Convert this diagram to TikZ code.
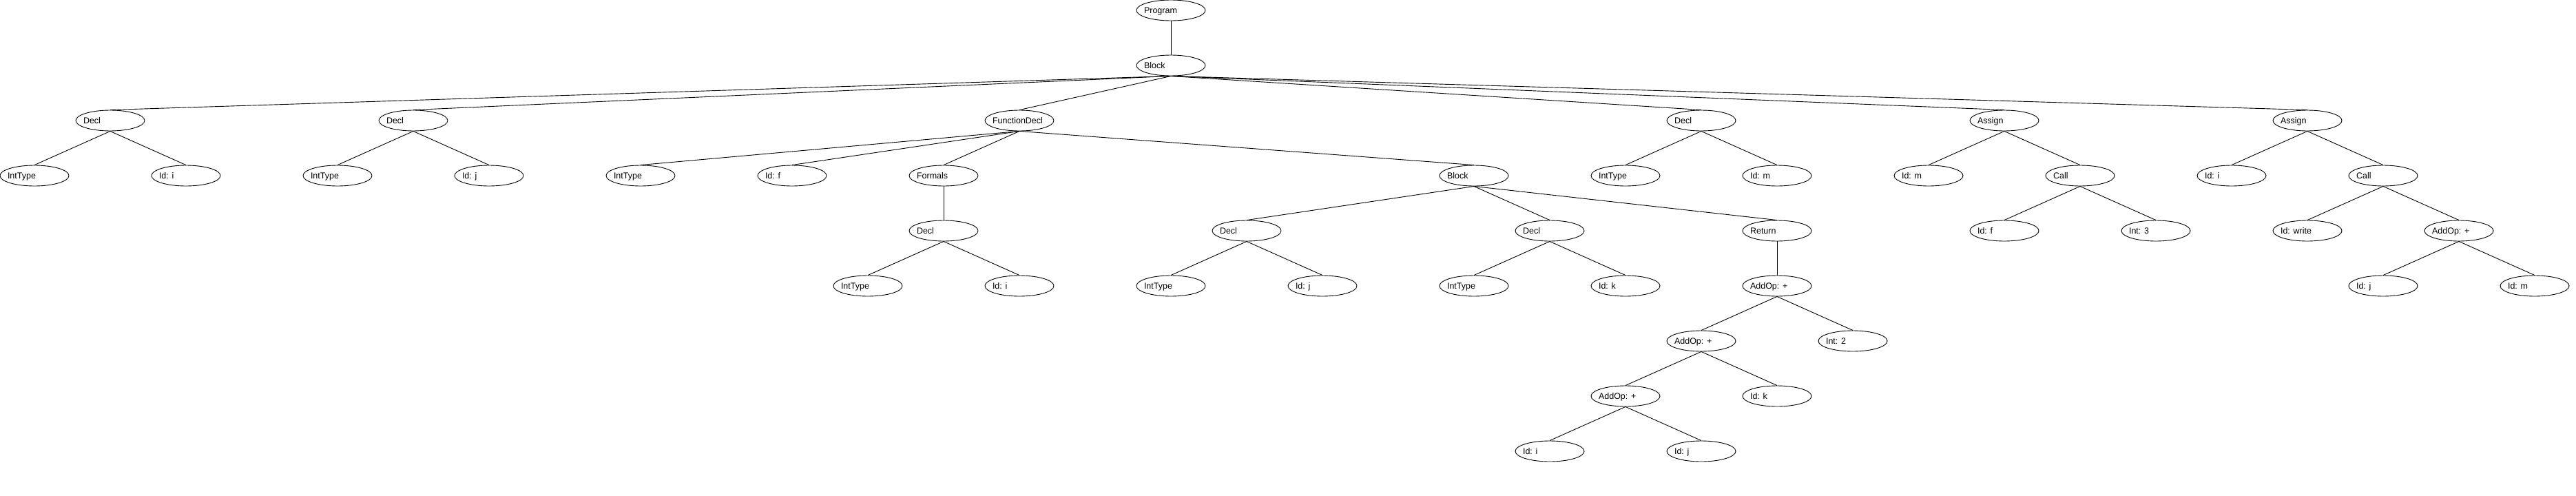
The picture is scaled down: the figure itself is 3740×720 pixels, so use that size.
\documentclass[tikz,border=0pt]{standalone}
\usepackage{fontspec}
\setmainfont{Liberation Sans}
\usetikzlibrary{shapes.geometric}
\newcommand{\lbl}[1]{\makebox[0pt]{\makebox[78pt][l]{#1}}}
\tikzset{
  nd/.style={draw, ellipse, line width=0.9pt, minimum width=100pt, minimum height=30pt,
    inner sep=0pt, text height=8.6pt, text depth=0pt,
    font=\fontsize{12.5}{15}\selectfont},
  edge/.style={line width=0.9pt}
}
\begin{document}
\begin{tikzpicture}[x=1pt,y=-1pt]
\useasboundingbox (0,0) rectangle (3740,720);
% level 0-1
\node[nd] (prog) at (1700,15) {\lbl{Program}};
\node[nd] (blk) at (1700,95) {\lbl{Block}};
% level 2
\node[nd] (d1) at (160,175) {\lbl{Decl}};
\node[nd] (d2) at (600,175) {\lbl{Decl}};
\node[nd] (fd) at (1480,175) {\lbl{FunctionDecl}};
\node[nd] (d3) at (2470,175) {\lbl{Decl}};
\node[nd] (as1) at (2910,175) {\lbl{Assign}};
\node[nd] (as2) at (3350,175) {\lbl{Assign}};
% level 3
\node[nd] (d1t) at (50,255) {\lbl{IntType}};
\node[nd] (d1i) at (270,255) {\lbl{Id: i}};
\node[nd] (d2t) at (490,255) {\lbl{IntType}};
\node[nd] (d2j) at (710,255) {\lbl{Id: j}};
\node[nd] (fdt) at (930,255) {\lbl{IntType}};
\node[nd] (fdf) at (1150,255) {\lbl{Id: f}};
\node[nd] (fml) at (1370,255) {\lbl{Formals}};
\node[nd] (fb) at (2140,255) {\lbl{Block}};
\node[nd] (d3t) at (2360,255) {\lbl{IntType}};
\node[nd] (d3m) at (2580,255) {\lbl{Id: m}};
\node[nd] (as1m) at (2800,255) {\lbl{Id: m}};
\node[nd] (c1) at (3020,255) {\lbl{Call}};
\node[nd] (as2i) at (3240,255) {\lbl{Id: i}};
\node[nd] (c2) at (3460,255) {\lbl{Call}};
% level 4
\node[nd] (fmd) at (1370,335) {\lbl{Decl}};
\node[nd] (bd1) at (1810,335) {\lbl{Decl}};
\node[nd] (bd2) at (2250,335) {\lbl{Decl}};
\node[nd] (ret) at (2580,335) {\lbl{Return}};
\node[nd] (c1f) at (2910,335) {\lbl{Id: f}};
\node[nd] (c1n) at (3130,335) {\lbl{Int: 3}};
\node[nd] (c2w) at (3350,335) {\lbl{Id: write}};
\node[nd] (a4) at (3570,335) {\lbl{AddOp: +}};
% level 5
\node[nd] (fmdt) at (1260,415) {\lbl{IntType}};
\node[nd] (fmdi) at (1480,415) {\lbl{Id: i}};
\node[nd] (bd1t) at (1700,415) {\lbl{IntType}};
\node[nd] (bd1j) at (1920,415) {\lbl{Id: j}};
\node[nd] (bd2t) at (2140,415) {\lbl{IntType}};
\node[nd] (bd2k) at (2360,415) {\lbl{Id: k}};
\node[nd] (a1) at (2580,415) {\lbl{AddOp: +}};
\node[nd] (a4j) at (3460,415) {\lbl{Id: j}};
\node[nd] (a4m) at (3680,415) {\lbl{Id: m}};
% level 6
\node[nd] (a2) at (2470,495) {\lbl{AddOp: +}};
\node[nd] (i2) at (2690,495) {\lbl{Int: 2}};
% level 7
\node[nd] (a3) at (2360,575) {\lbl{AddOp: +}};
\node[nd] (k3) at (2580,575) {\lbl{Id: k}};
% level 8
\node[nd] (a3i) at (2250,655) {\lbl{Id: i}};
\node[nd] (a3j) at (2470,655) {\lbl{Id: j}};
% edges
\foreach \p/\c in {prog/blk, blk/d1, blk/d2, blk/fd, blk/d3, blk/as1, blk/as2,
  d1/d1t, d1/d1i, d2/d2t, d2/d2j,
  fd/fdt, fd/fdf, fd/fml, fd/fb,
  fml/fmd, fmd/fmdt, fmd/fmdi,
  fb/bd1, fb/bd2, fb/ret,
  bd1/bd1t, bd1/bd1j, bd2/bd2t, bd2/bd2k,
  ret/a1, a1/a2, a1/i2, a2/a3, a2/k3, a3/a3i, a3/a3j,
  d3/d3t, d3/d3m,
  as1/as1m, as1/c1, c1/c1f, c1/c1n,
  as2/as2i, as2/c2, c2/c2w, c2/a4, a4/a4j, a4/a4m}
  \draw[edge] (\p.south) -- (\c.north);
\end{tikzpicture}
\end{document}
